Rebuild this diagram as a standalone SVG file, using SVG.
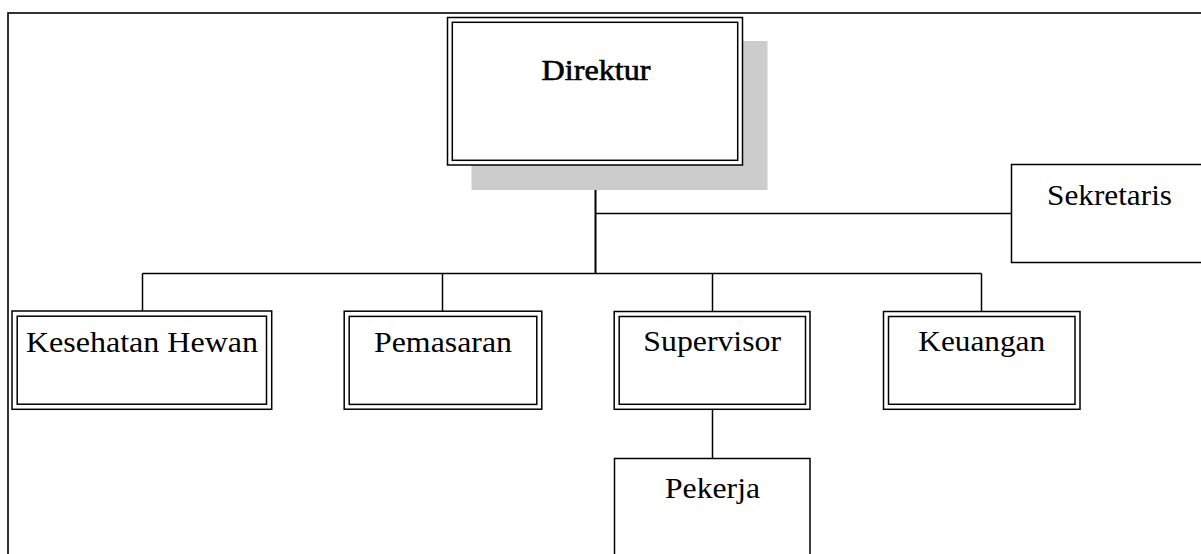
<svg xmlns="http://www.w3.org/2000/svg" width="1201" height="554" viewBox="0 0 1201 554">
<style>
.bx{fill:#fff;stroke:#000;stroke-width:1.5}
.in{fill:none;stroke:#000;stroke-width:1.5}
.ln{fill:none;stroke:#000;stroke-width:1.5}
.tk{fill:none;stroke:#000;stroke-width:2}
.t{font-family:"Liberation Serif","Times New Roman",serif;font-size:30px;fill:#000;text-anchor:middle}
.tb{font-size:29px;stroke:#000;stroke-width:0.6}
</style>
<rect x="8" y="13" width="1210" height="600" fill="#fff" stroke="#000" stroke-width="1.6"/>
<g id="connectors">
<line class="tk" x1="595.5" y1="165" x2="595.5" y2="273.5"/>
<line class="ln" x1="595.5" y1="213.5" x2="1011.5" y2="213.5"/>
<line class="ln" x1="142.5" y1="273.5" x2="981.5" y2="273.5"/>
<line class="ln" x1="142.5" y1="273.5" x2="142.5" y2="311"/>
<line class="ln" x1="442.5" y1="273.5" x2="442.5" y2="311"/>
<line class="ln" x1="712.5" y1="273.5" x2="712.5" y2="311"/>
<line class="ln" x1="981.5" y1="273.5" x2="981.5" y2="311"/>
<line class="ln" x1="712.5" y1="409" x2="712.5" y2="458.5"/>
</g>
<g id="direktur">
<rect x="471.5" y="41" width="296" height="149" fill="#cccccc"/>
<rect class="bx" x="447.5" y="17.5" width="295" height="147.5"/>
<rect class="in" x="452.3" y="22.3" width="285.4" height="138"/>
<text class="t tb" x="596" y="80" textLength="109" lengthAdjust="spacingAndGlyphs">Direktur</text>
</g>
<g id="sekretaris">
<rect class="bx" x="1011.5" y="164.5" width="210" height="98"/>
<text class="t" x="1109.5" y="205" textLength="125" lengthAdjust="spacingAndGlyphs">Sekretaris</text>
</g>
<g id="kesehatan-hewan">
<rect class="bx" x="12" y="311" width="259.7" height="98.3"/>
<rect class="in" x="17.2" y="316.2" width="249.3" height="88"/>
<text class="t" x="142" y="351.5" textLength="232" lengthAdjust="spacingAndGlyphs">Kesehatan Hewan</text>
</g>
<g id="pemasaran">
<rect class="bx" x="344.2" y="311.2" width="197.6" height="98"/>
<rect class="in" x="349.2" y="316.4" width="187.6" height="88"/>
<text class="t" x="443" y="351.5" textLength="138" lengthAdjust="spacingAndGlyphs">Pemasaran</text>
</g>
<g id="supervisor">
<rect class="bx" x="614.2" y="311.5" width="195.8" height="97.8"/>
<rect class="in" x="619.2" y="316.5" width="186.3" height="87.8"/>
<text class="t" x="712.2" y="351" textLength="137.7" lengthAdjust="spacingAndGlyphs">Supervisor</text>
</g>
<g id="keuangan">
<rect class="bx" x="883.5" y="311.5" width="196.5" height="97.8"/>
<rect class="in" x="888.5" y="316.5" width="186.5" height="87.8"/>
<text class="t" x="981.7" y="351" textLength="126.7" lengthAdjust="spacingAndGlyphs">Keuangan</text>
</g>
<g id="pekerja">
<rect class="bx" x="614.5" y="458.5" width="195.5" height="120"/>
<text class="t" x="712.5" y="497.5" textLength="95" lengthAdjust="spacingAndGlyphs">Pekerja</text>
</g>
</svg>
